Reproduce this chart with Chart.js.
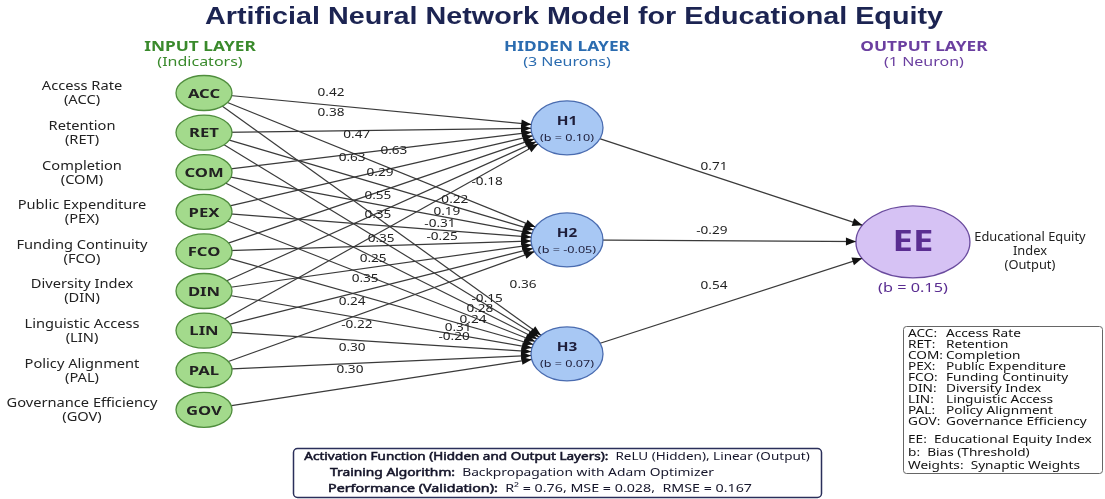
<!DOCTYPE html>
<html>
<head>
<meta charset="UTF-8">
<title>Artificial Neural Network Model for Educational Equity</title>
<script src="https://cdn.jsdelivr.net/npm/chart.js"></script>
<style>
  html, body { margin: 0; padding: 0; background: #fff; }
  .chart-container { position: relative; width: 1105px; height: 499px; }
</style>
</head>
<body>
<div class="chart-container"><canvas id="chart"></canvas></div>
<script>
// ---- data ----
const inputCodes = ['ACC', 'RET', 'COM', 'PEX', 'FCO', 'DIN', 'LIN', 'PAL', 'GOV'];
const inputNames = ['Access Rate', 'Retention', 'Completion', 'Public Expenditure', 'Funding Continuity',
                    'Diversity Index', 'Linguistic Access', 'Policy Alignment', 'Governance Efficiency'];
const hiddenNames = ['H1', 'H2', 'H3'];
const hiddenBias = [0.10, -0.05, 0.07];
const outputName = 'EE';
const outputBias = 0.15;

// connections input -> hidden as [input index, hidden index]
const links = [
    [0, 0], [0, 1], [0, 2],
    [1, 0], [1, 1], [1, 2],
    [2, 0], [2, 1], [2, 2],
    [3, 0], [3, 1], [3, 2],
    [4, 0], [4, 1], [4, 2],
    [5, 0], [5, 1], [5, 2],
    [6, 0], [6, 1], [6, 2],
    [7, 1], [7, 2],
    [8, 2]
];
// weights as printed in the diagram (input side), top to bottom
const inputWeights = [0.42, 0.38, 0.47, 0.63, 0.63, 0.29, 0.55, -0.18, 0.22, 0.19, 0.35, -0.31, -0.25,
                      0.35, 0.25, 0.35, 0.24, -0.22, 0.36, -0.15, 0.28, 0.24, 0.31, -0.20, 0.30, 0.30];
const outputWeights = [0.71, -0.29, 0.54];

// ---- layout (not data) ----
const layerX = [0, 1, 1.953];
const hiddenRows = [0.88, 3.71, 6.59];
const outputRow = 3.76;
// where each weight label sits, in chart units [layer, row]
const inputWeightPos = [
    [0.350, 0.00], [0.350, 0.505], [0.421, 1.06], [0.523, 1.465], [0.408, 1.64], [0.485, 2.02],
    [0.479, 2.60], [0.780, 2.247], [0.691, 2.70], [0.669, 3.005], [0.479, 3.08], [0.650, 3.31],
    [0.656, 3.636], [0.488, 3.687], [0.466, 4.19], [0.444, 4.697], [0.408, 5.278], [0.421, 5.86],
    [0.879, 4.848], [0.780, 5.20], [0.760, 5.455], [0.741, 5.732], [0.700, 5.934], [0.689, 6.162],
    [0.408, 6.44], [0.402, 6.995]
];
const outputWeightPos = [[1.405, 1.87], [1.399, 3.485], [1.405, 4.874]];

const SANS = '"Noto Sans", "Open Sans", sans-serif';
const WIDE = 1.28; // the original art is stretched sideways

function fmt(v) { return v.toFixed(2); }

// ---- datasets ----
const datasets = [];
links.forEach(l => {
    datasets.push({
        label: 'edge', kind: 'ih', showLine: true,
        data: [{ x: layerX[0], y: l[0] }, { x: layerX[1], y: hiddenRows[l[1]] }],
        borderColor: '#3a3a3a', borderWidth: 1.2, pointRadius: 0
    });
});
hiddenRows.forEach(r => {
    datasets.push({
        label: 'edge', kind: 'ho', showLine: true,
        data: [{ x: layerX[1], y: r }, { x: layerX[2], y: outputRow }],
        borderColor: '#3a3a3a', borderWidth: 1.2, pointRadius: 0
    });
});
const nodeData = inputCodes.map((c, i) => ({ x: layerX[0], y: i }))
    .concat(hiddenRows.map(r => ({ x: layerX[1], y: r })))
    .concat([{ x: layerX[2], y: outputRow }]);
datasets.push({ label: 'nodes', data: nodeData, pointRadius: 0, showLine: false });

const SIZE = { ih: [36, 27], ho: [57, 36] };

function txt(ctx, s, x, y, font, color, align, sx, heavy) {
    ctx.save();
    ctx.font = font;
    ctx.fillStyle = color;
    ctx.textAlign = align || 'center';
    ctx.textBaseline = 'middle';
    ctx.translate(x, y);
    ctx.scale(sx || WIDE, 1);
    ctx.fillText(s, 0, 0);
    if (heavy) {
        ctx.strokeStyle = color;
        ctx.lineWidth = heavy;
        ctx.strokeText(s, 0, 0);
    }
    ctx.restore();
}

function ellipse(ctx, x, y, rx, ry, fill, stroke) {
    ctx.beginPath();
    ctx.ellipse(x, y, rx, ry, 0, 0, Math.PI * 2);
    ctx.fillStyle = fill;
    ctx.fill();
    ctx.lineWidth = 1.3;
    ctx.strokeStyle = stroke;
    ctx.stroke();
}

// segments: [[text, heavy], ...] all drawn in one font
function richLine(ctx, segs, x, y, align, font, sx) {
    ctx.font = font;
    let w = 0;
    segs.forEach(s => { w += ctx.measureText(s[0]).width * sx; });
    let cx = align === 'left' ? x : x - w / 2;
    segs.forEach(s => {
        txt(ctx, s[0], cx, y, font, '#15152a', 'left', sx, s[1]);
        ctx.font = font;
        cx += ctx.measureText(s[0]).width * sx;
    });
}

const networkPlugin = {
    id: 'network',
    afterDatasetsDraw(chart) {
        const ctx = chart.ctx;
        const xs = chart.scales.x, ys = chart.scales.y;
        const nodesMeta = chart.getDatasetMeta(chart.data.datasets.length - 1).data;
        ctx.save();

        // nodes
        for (let i = 0; i < inputCodes.length; i++) {
            const p = nodesMeta[i];
            ellipse(ctx, p.x, p.y, 28, 17.5, '#a3da8c', '#4f8d3d');
            txt(ctx, inputCodes[i], p.x, p.y + 1, 'bold 13px ' + SANS, '#222');
            txt(ctx, inputNames[i], 82, p.y - 6, '12px ' + SANS, '#222', 'center', 1.22);
            txt(ctx, '(' + inputCodes[i] + ')', 82, p.y + 8, '12px ' + SANS, '#222', 'center', 1.22);
        }
        for (let j = 0; j < hiddenNames.length; j++) {
            const p = nodesMeta[inputCodes.length + j];
            ellipse(ctx, p.x, p.y, 36, 27, '#a8c8f4', '#4a6cb0');
            txt(ctx, hiddenNames[j], p.x, p.y - 6, 'bold 12px ' + SANS, '#1e1e3a');
            txt(ctx, '(b = ' + fmt(hiddenBias[j]) + ')', p.x, p.y + 10, '9.5px ' + SANS, '#1e1e3a', 'center', 1.33);
        }
        const o = nodesMeta[nodesMeta.length - 1];
        ellipse(ctx, o.x, o.y, 57, 36, '#d6c2f4', '#6a4b9e');
        txt(ctx, outputName, o.x, o.y + 1, 'bold 28px ' + SANS, '#5a2d91', 'center', 1.3);
        txt(ctx, '(b = ' + fmt(outputBias) + ')', o.x, o.y + 47, '12.5px ' + SANS, '#5a2d91', 'center', 1.3);
        txt(ctx, 'Educational Equity', o.x + 117, o.y - 4, '12px ' + SANS, '#222', 'center', 1.07);
        txt(ctx, 'Index', o.x + 117, o.y + 10, '12px ' + SANS, '#222', 'center', 1.07);
        txt(ctx, '(Output)', o.x + 117, o.y + 24, '12px ' + SANS, '#222', 'center', 1.07);

        // arrowheads at the target border
        ctx.fillStyle = '#111';
        chart.data.datasets.forEach((ds, k) => {
            if (ds.label !== 'edge') return;
            const pts = chart.getDatasetMeta(k).data;
            const a = pts[0], b = pts[1];
            const r = SIZE[ds.kind];
            const dx = a.x - b.x, dy = a.y - b.y;
            const s = 1 / Math.sqrt((dx / r[0]) ** 2 + (dy / r[1]) ** 2);
            const tx = b.x + dx * s, ty = b.y + dy * s;
            const ang = Math.atan2(ty - a.y, tx - a.x);
            const L = 10, W = 4;
            ctx.beginPath();
            ctx.moveTo(tx, ty);
            ctx.lineTo(tx - L * Math.cos(ang) + W * Math.sin(ang), ty - L * Math.sin(ang) - W * Math.cos(ang));
            ctx.lineTo(tx - L * Math.cos(ang) - W * Math.sin(ang), ty - L * Math.sin(ang) + W * Math.cos(ang));
            ctx.closePath();
            ctx.fill();
        });

        // weight labels
        inputWeights.forEach((w, i) => {
            const pos = inputWeightPos[i];
            txt(ctx, fmt(w), xs.getPixelForValue(pos[0]), ys.getPixelForValue(pos[1]), '11.5px ' + SANS, '#222', 'center', 1.18);
        });
        outputWeights.forEach((w, i) => {
            const pos = outputWeightPos[i];
            txt(ctx, fmt(w), xs.getPixelForValue(pos[0]), ys.getPixelForValue(pos[1]), '11.5px ' + SANS, '#222', 'center', 1.18);
        });

        // title and layer headers
        txt(ctx, 'Artificial Neural Network Model for Educational Equity', 574, 18,
            'bold 23px "Liberation Sans", Arial, sans-serif', '#1c2452', 'center', 1.25);
        const hx = [xs.getPixelForValue(layerX[0]) - 4, xs.getPixelForValue(layerX[1]), xs.getPixelForValue(layerX[2]) + 11];
        txt(ctx, 'INPUT LAYER', hx[0], 47, 'bold 13.5px ' + SANS, '#3a8a2c');
        txt(ctx, '(Indicators)', hx[0], 62, '12.5px ' + SANS, '#3a8a2c');
        txt(ctx, 'HIDDEN LAYER', hx[1], 47, 'bold 13.5px ' + SANS, '#2b6cb0');
        txt(ctx, '(3 Neurons)', hx[1], 62, '12.5px ' + SANS, '#2b6cb0');
        txt(ctx, 'OUTPUT LAYER', hx[2], 47, 'bold 13.5px ' + SANS, '#6b3fa0');
        txt(ctx, '(1 Neuron)', hx[2], 62, '12.5px ' + SANS, '#6b3fa0');

        // abbreviation key
        ctx.lineWidth = 1;
        ctx.strokeStyle = '#666';
        ctx.beginPath();
        ctx.roundRect(903.5, 326.5, 199, 147, 3);
        ctx.stroke();
        const K = '11px ' + SANS;
        inputCodes.forEach((c, i) => {
            txt(ctx, c + ':', 908, 334 + i * 11, K, '#111', 'left', 1.24);
            txt(ctx, inputNames[i], 946, 334 + i * 11, K, '#111', 'left', 1.24);
        });
        txt(ctx, 'EE:  Educational Equity Index', 908, 440, K, '#111', 'left', 1.24);
        txt(ctx, 'b:  Bias (Threshold)', 908, 453, K, '#111', 'left', 1.24);
        txt(ctx, 'Weights:  Synaptic Weights', 908, 466, K, '#111', 'left', 1.24);

        // model info box
        ctx.lineWidth = 1.5;
        ctx.strokeStyle = '#2a2f5a';
        ctx.beginPath();
        ctx.roundRect(293.5, 448.5, 528, 49, 4);
        ctx.stroke();
        const F = '11.5px ' + SANS;
        richLine(ctx, [['Activation Function (Hidden and Output Layers):', 0.55],
                       ['  ReLU (Hidden), Linear (Output)', 0]], 557, 457, 'center', F, 1.175);
        richLine(ctx, [['Training Algorithm:', 0.55],
                       ['  Backpropagation with Adam Optimizer', 0]], 330, 473, 'left', F, 1.2);
        richLine(ctx, [['Performance (Validation):', 0.55],
                       ['  R\u00b2 = 0.76, MSE = 0.028,  RMSE = 0.167', 0]], 328, 489, 'left', F, 1.24);

        ctx.restore();
    }
};

new Chart(document.getElementById('chart'), {
    type: 'scatter',
    data: { datasets: datasets },
    options: {
        responsive: true,
        maintainAspectRatio: false,
        animation: false,
        events: [],
        layout: { padding: 0 },
        plugins: {
            legend: { display: false },
            tooltip: { enabled: false },
            title: { display: false }
        },
        scales: {
            x: { type: 'linear', display: false, min: -204 / 363, max: (1105 - 204) / 363 },
            y: { type: 'linear', display: false, reverse: true, min: -93 / 39.6, max: (499 - 93) / 39.6 }
        }
    },
    plugins: [networkPlugin]
});
</script>
</body>
</html>
